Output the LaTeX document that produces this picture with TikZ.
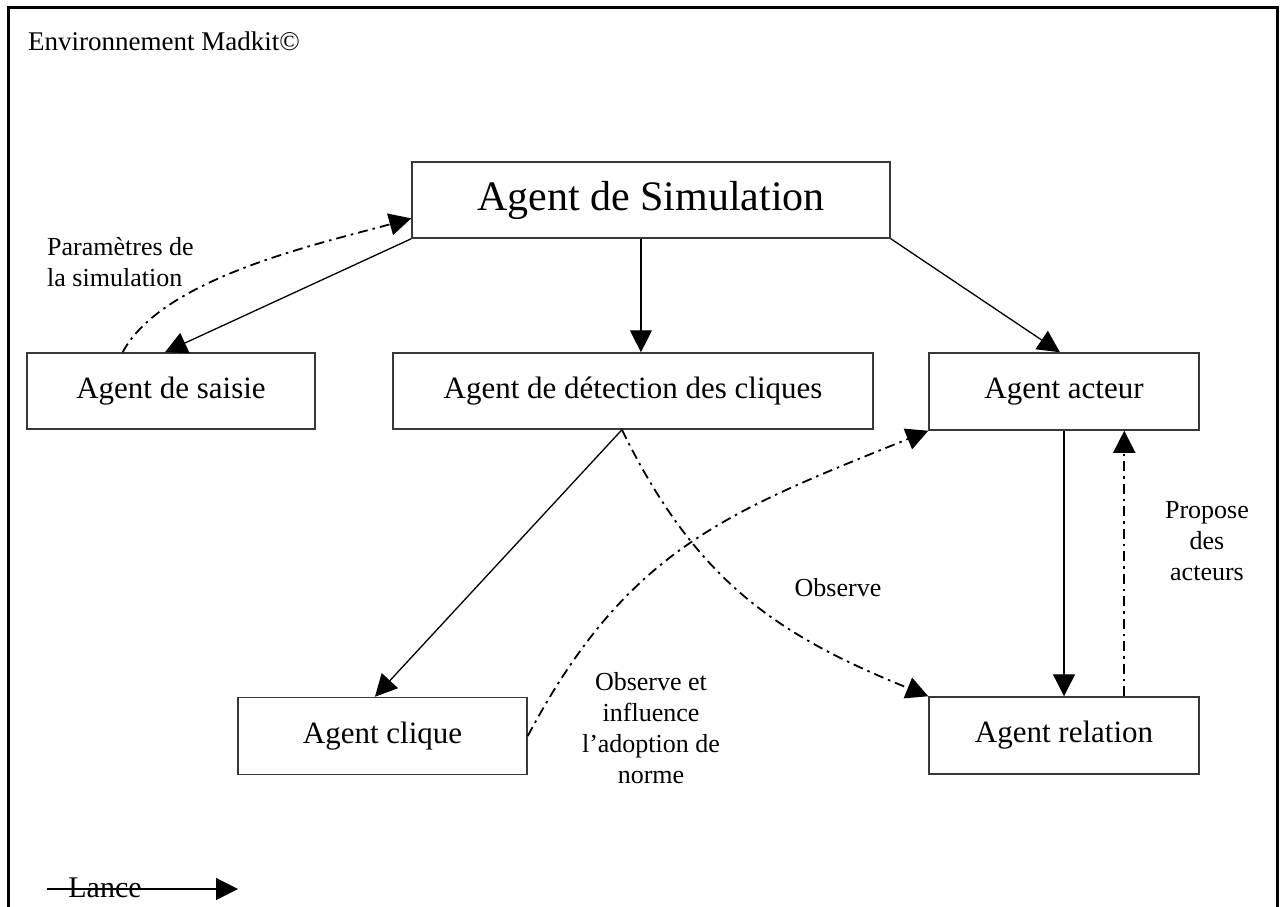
\documentclass[tikz,border=0pt]{standalone}
\usepackage{fontspec}
\setmainfont{Liberation Serif}
\usetikzlibrary{arrows.meta,calc}

\begin{document}
\begin{tikzpicture}[x=1pt,y=-1pt,
  agent/.style={draw=black!78, line width=1.5pt, rectangle, inner sep=0pt,
                font=\fontsize{31}{36}\selectfont},
  link/.style={line width=1.3pt, -{Triangle[length=22pt,width=22pt]}},
  dashdot/.style={link, line width=1.8pt, dash pattern=on 10pt off 5pt on 2.5pt off 5pt},
  note/.style={font=\fontsize{26}{31}\selectfont, align=center, inner sep=0pt}]
\useasboundingbox (0,0) rectangle (1285,906);
% outer frame of the environment
\draw[line width=3pt] (8,7) rectangle (1277,940);
\node[anchor=base west, inner sep=0pt, font=\fontsize{27}{32}\selectfont] (title) at (28,50) {Environnement Madkit©};

% agents
\node[agent, minimum width=478pt, minimum height=76pt, font=\fontsize{42}{48}\selectfont] (sim) at (651,200) {Agent de Simulation};
\node[agent, minimum width=288pt, minimum height=76pt] (saisie) at (171,391) {Agent de saisie};
\node[agent, minimum width=480pt, minimum height=76pt] (det) at (633,391) {Agent de détection des cliques};
\node[agent, minimum width=270pt, minimum height=77pt] (acteur) at (1064,391.5) {Agent acteur};
\node[agent, minimum width=289pt, minimum height=77pt] (clique) at (382.5,736) {Agent clique};
\node[agent, minimum width=270pt, minimum height=77pt] (relation) at (1064,735.5) {Agent relation};

% "lance" links
\draw[link] (sim.south west) -- ($(saisie.north west)!0.479!(saisie.north east)$);
\draw[link] ($(sim.south west)!0.479!(sim.south east)$) coordinate (s1) -- (s1 |- det.north);
\draw[link] (sim.south east) -- ($(acteur.north west)!0.485!(acteur.north east)$);
\draw[link] ($(det.south west)!0.477!(det.south east)$) -- ($(clique.north west)!0.474!(clique.north east)$);
\draw[link] (acteur.south) -- (relation.north);

% dash-dotted interactions
\draw[dashdot] ($(saisie.north west)!0.333!(saisie.north east)$) .. controls +(40,-75) and +(-90,25) .. ($(sim.north west)!0.737!(sim.south west)$);
\draw[dashdot] ($(det.south west)!0.477!(det.south east)$) .. controls +(75,153) and +(-150,-61) .. (relation.north west);
\draw[dashdot] (clique.east) .. controls +(100,-188) and +(-200,81) .. (acteur.south west);
\draw[dashdot] ($(relation.north west)!0.722!(relation.north east)$) coordinate (r1) -- (r1 |- acteur.south);

% labels
\node[note, anchor=west, align=left] (param) at (47,262) {Paramètres de\\la simulation};
\node[note] (obs) at (838,588) {Observe};
\node[note] (obsinf) at (651,728) {Observe et\\influence\\l’adoption de\\norme};
\node[note] (prop) at (1207,541) {Propose\\des\\acteurs};

% legend
\coordinate (lanceA) at (47,889);
\coordinate (lanceB) at (238,889);
\draw[link] (lanceA) -- (lanceB);
\node[anchor=base, inner sep=0pt, font=\fontsize{30}{36}\selectfont] (lance) at (105,897) {Lance};
\end{tikzpicture}
\end{document}
